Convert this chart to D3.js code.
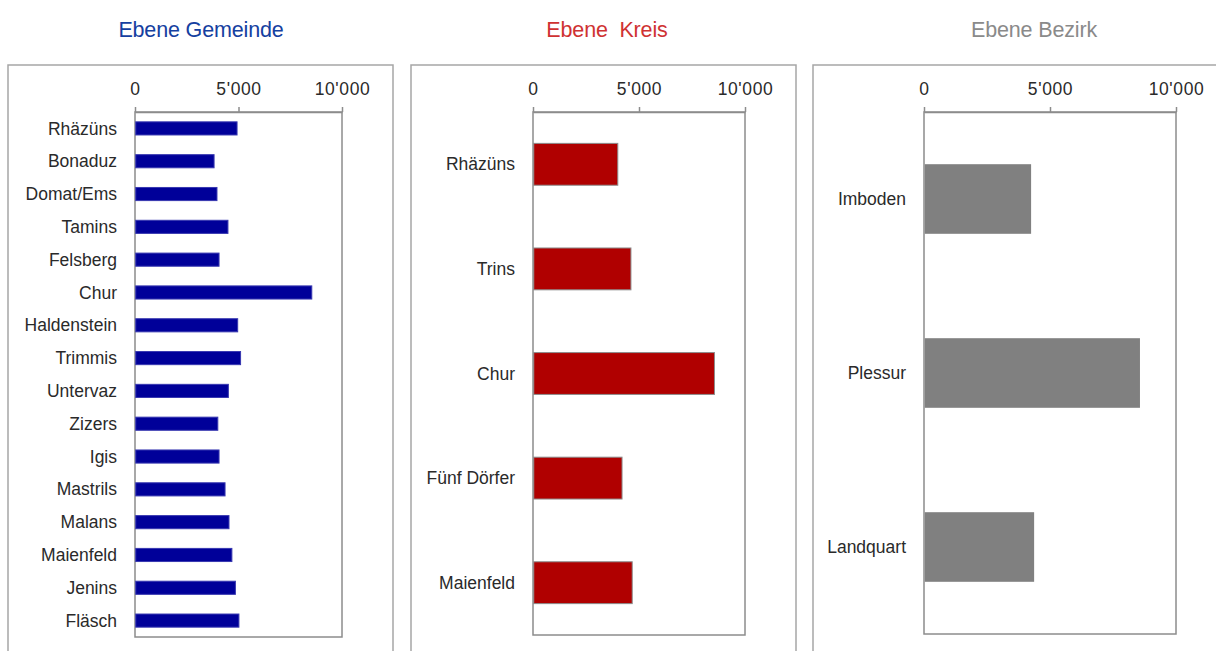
<!DOCTYPE html>
<html>
<head>
<meta charset="utf-8">
<script src="https://cdn.jsdelivr.net/npm/d3@7"></script>
<style>
  html, body { margin: 0; padding: 0; background: #fff; }
  svg { display: block; font-family: "Liberation Sans", Arial, sans-serif; }
</style>
</head>
<body>
<svg id="chart" width="1216" height="651"></svg>
<script>
// ---- data ----
const gemeindeNames = ["Rhäzüns","Bonaduz","Domat/Ems","Tamins","Felsberg","Chur","Haldenstein","Trimmis","Untervaz","Zizers","Igis","Mastrils","Malans","Maienfeld","Jenins","Fläsch"];
const gemeindeValues = [4930, 3820, 3960, 4490, 4060, 8540, 4960, 5100, 4510, 4000, 4060, 4350, 4540, 4680, 4850, 5020];
const kreisNames = ["Rhäzüns","Trins","Chur","Fünf Dörfer","Maienfeld"];
const kreisValues = [4000, 4620, 8560, 4200, 4680];
const bezirkNames = ["Imboden","Plessur","Landquart"];
const bezirkValues = [4250, 8570, 4370];
const tickValues = [0, 5000, 10000];
const tickLabels = ["0", "5'000", "10'000"];
const titles = ["Ebene Gemeinde", "Ebene  Kreis", "Ebene Bezirk"];

// ---- layout / style ----
const panels = [
  { names: gemeindeNames, values: gemeindeValues, title: titles[0], titleColor: "#1540a0", titleX: 201,
    box: [8, 65, 385], plot: [135, 342, 112, 637], fill: "#000099", stroke: "#3838b0", sw: 1 },
  { names: kreisNames, values: kreisValues, title: titles[1], titleColor: "#cf3232", titleX: 607,
    box: [411, 65, 385], plot: [533, 745, 112, 635], fill: "#b00000", stroke: "#8c8c8c", sw: 1 },
  { names: bezirkNames, values: bezirkValues, title: titles[2], titleColor: "#8a8a8a", titleX: 1034,
    box: [813, 65, 420], plot: [924, 1176, 112, 634], fill: "#808080", stroke: "none", sw: 0 }
];

const svg = d3.select("#chart");

panels.forEach(p => {
  const g = svg.append("g");
  // outer border
  g.append("rect")
    .attr("x", p.box[0]).attr("y", p.box[1])
    .attr("width", p.box[2]).attr("height", 700)
    .attr("fill", "none").attr("stroke", "#a6a6a6").attr("stroke-width", 1.5);

  // title
  g.append("text")
    .attr("x", p.titleX).attr("y", 37)
    .attr("text-anchor", "middle")
    .style("white-space", "pre")
    .attr("font-size", "21.5px")
    .attr("letter-spacing", "-0.15px")
    .attr("fill", p.titleColor)
    .text(p.title);

  const x = d3.scaleLinear().domain([0, 10000]).range([p.plot[0], p.plot[1]]);
  const y = d3.scaleBand().domain(p.names).range([p.plot[2], p.plot[3]]).paddingInner(0.6).paddingOuter(0.3);

  // plot frame
  g.append("rect")
    .attr("x", p.plot[0]).attr("y", p.plot[2])
    .attr("width", p.plot[1] - p.plot[0]).attr("height", p.plot[3] - p.plot[2])
    .attr("fill", "none").attr("stroke", "#8c8c8c").attr("stroke-width", 1.5);

  // bars
  g.selectAll("rect.bar").data(p.values).enter().append("rect")
    .attr("class", "bar")
    .attr("x", x(0) + 0.75)
    .attr("y", (d, i) => y(p.names[i]))
    .attr("width", d => x(d) - x(0) - 0.75)
    .attr("height", y.bandwidth())
    .attr("fill", p.fill)
    .attr("stroke", p.stroke)
    .attr("stroke-width", p.sw);

  // top axis
  const axis = d3.axisTop(x)
    .tickValues(tickValues)
    .tickFormat((d, i) => tickLabels[i])
    .tickSizeInner(5).tickSizeOuter(0).tickPadding(12);
  const ag = g.append("g").attr("transform", `translate(0,${p.plot[2]})`).call(axis);
  ag.select(".domain").attr("stroke", "#8c8c8c").attr("stroke-width", 1.5);
  ag.selectAll(".tick line").attr("stroke", "#8c8c8c").attr("stroke-width", 1.5);
  ag.selectAll(".tick text")
    .attr("font-size", "17.5px")
    .attr("letter-spacing", "0.6px")
    .attr("fill", "#2a2a2a")
    .attr("font-family", "'Liberation Sans', Arial, sans-serif");

  // category labels
  g.selectAll("text.cat").data(p.names).enter().append("text")
    .attr("class", "cat")
    .attr("x", p.plot[0] - 18)
    .attr("y", d => y(d) + y.bandwidth() / 2)
    .attr("dy", "0.35em")
    .attr("text-anchor", "end")
    .attr("font-size", "17.5px")
    .attr("fill", "#2a2a2a")
    .text(d => d);
});
</script>
</body>
</html>
